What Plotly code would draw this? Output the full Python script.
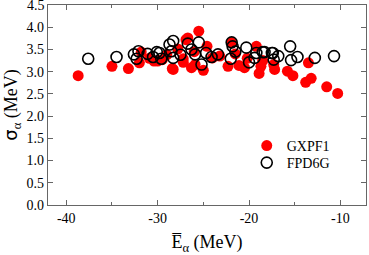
import plotly.graph_objects as go

# GXPF1 (filled red)
gx_E = [-38.7, -35.0, -33.2, -32.0, -31.8, -30.9, -30.4, -30.0, -29.5, -29.0,
        -28.4, -28.3, -27.8, -27.2, -27.2, -26.9, -26.7, -26.3, -26.0, -25.9,
        -25.5, -25.0, -24.6, -24.0, -23.2, -22.3, -21.9, -21.5, -21.1, -20.5,
        -20.2, -19.2, -18.9, -18.7, -18.5, -17.3, -17.2, -15.8, -15.2, -13.8,
        -13.5, -13.2, -11.5, -10.3]
gx_S = [2.91, 3.12, 3.07, 3.20, 3.44, 3.30, 3.24, 3.24, 3.27, 3.38,
        3.07, 3.05, 3.51, 3.29, 3.21, 3.72, 3.76, 3.09, 3.45, 3.16,
        3.91, 3.03, 3.57, 3.31, 3.35, 3.12, 3.65, 3.40, 3.14, 3.09,
        3.30, 3.57, 2.96, 3.12, 3.25, 3.16, 3.05, 3.01, 2.91, 2.76,
        3.20, 2.85, 2.66, 2.51]

# FPD6G (open black)
fp_E = [-37.6, -34.5, -32.6, -32.3, -32.1, -31.1, -30.5, -30.1, -29.8, -29.6,
        -28.7, -28.5, -28.3, -28.3, -27.5, -26.7, -26.3, -25.9, -25.5, -25.2,
        -24.7, -24.1, -23.4, -22.0, -21.9, -21.8, -21.5, -20.3, -20.0, -19.4,
        -19.2, -18.5, -18.3, -17.5, -17.4, -17.3, -16.8, -15.5, -15.4, -14.7,
        -12.8, -10.7]
fp_S = [3.29, 3.33, 3.39, 3.29, 3.46, 3.40, 3.33, 3.44, 3.42, 3.29,
        3.61, 3.46, 3.69, 3.31, 3.38, 3.63, 3.50, 3.39, 3.66, 3.16,
        3.42, 3.33, 3.39, 3.29, 3.66, 3.57, 3.45, 3.54, 3.21, 3.31,
        3.42, 3.44, 3.44, 3.42, 3.42, 3.27, 3.35, 3.57, 3.26, 3.33,
        3.31, 3.35]

x_ticks = [-40, -30, -20, -10]
y_ticks = [0.0, 0.5, 1.0, 1.5, 2.0, 2.5, 3.0, 3.5, 4.0, 4.5]
y_top_label = "4.5"

SERIF = "Liberation Serif"

fig = go.Figure()
fig.add_trace(go.Scatter(
    x=gx_E, y=gx_S, mode="markers", name="GXPF1", legend="legend", showlegend=True,
    marker=dict(symbol="circle", size=11, color="#ff0000", line=dict(width=0)),
))
fig.add_trace(go.Scatter(
    x=fp_E, y=fp_S, mode="markers", name="FPD6G", legend="legend2", showlegend=True,
    marker=dict(symbol="circle-open", size=11, color="#000000", line=dict(width=1.6)),
))

axis_common = dict(
    showline=True, linecolor="#666666", linewidth=1.2, mirror="ticks",
    ticks="inside", ticklen=5, tickcolor="#666666", tickwidth=1,
    showgrid=False, zeroline=False,
    tickfont=dict(family=SERIF, size=14, color="#000000"),
)

fig.update_xaxes(
    range=[-42.0, -7.2], tickvals=x_ticks, ticktext=[str(v) for v in x_ticks],
    minor=dict(ticks="inside", ticklen=3, dtick=5, tick0=0, tickcolor="#666666"),
    title=dict(text="E\u0305<sub>\u03b1</sub> (MeV)", font=dict(family=SERIF, size=18, color="#000"),
               standoff=12),
    **axis_common,
)
fig.update_yaxes(
    range=[0, 4.5], tickvals=y_ticks,
    ticktext=[f"{v:.1f}" if v < 4.5 else "" for v in y_ticks],
    title=dict(text="<span style='font-family:DejaVu Sans'>\u03c3</span><sub>\u03b1</sub> (MeV)",
               font=dict(family=SERIF, size=18, color="#000"), standoff=4),
    **axis_common,
)

# top tick label (drawn as text so it is not auto-hidden at the page edge)
fig.add_annotation(text=y_top_label, xref="paper", x=0, xanchor="right", xshift=-1,
                   yref="y", y=y_ticks[-1], yanchor="middle", showarrow=False,
                   font=dict(family=SERIF, size=14, color="#000"))

legend_common = dict(xanchor="left", yanchor="top", bgcolor="rgba(0,0,0,0)",
                     font=dict(family=SERIF, size=14, color="#000"), itemwidth=30)

fig.update_layout(
    width=369, height=255,
    margin=dict(l=48, r=3, t=5, b=50),
    paper_bgcolor="white", plot_bgcolor="white",
    font=dict(family=SERIF, color="#000"),
    showlegend=True,
    legend=dict(x=0.625, y=0.375, **legend_common),
    legend2=dict(x=0.625, y=0.29, **legend_common),
)

fig.write_html("out.html", config={"displayModeBar": False},
               post_script="document.body.style.margin='0px';")
